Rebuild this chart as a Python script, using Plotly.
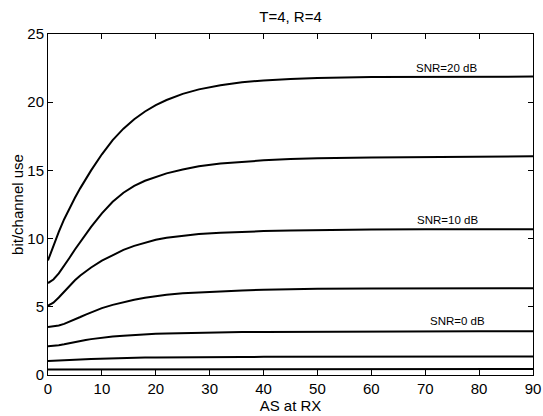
import plotly.graph_objects as go

as_deg = [0, 1, 2, 3, 4, 5, 6, 7, 8, 10, 12, 14, 16, 18, 20, 22, 25, 28, 32, 36, 40, 45, 50, 60, 70, 80, 90]

cap_a = [8.4, 9.48, 10.5, 11.42, 12.25, 13.0, 13.7, 14.37, 15.0, 16.18, 17.22, 18.06, 18.75, 19.32, 19.78, 20.16,
         20.61, 20.94, 21.25, 21.46, 21.6, 21.71, 21.78, 21.84, 21.87, 21.88, 21.88]
cap_b = [6.74, 7.0, 7.45, 8.0, 8.6, 9.2, 9.78, 10.33, 10.86, 11.85, 12.7, 13.36, 13.86, 14.24, 14.53, 14.78,
         15.07, 15.3, 15.5, 15.64, 15.74, 15.83, 15.89, 15.95, 15.99, 16.01, 16.03]
cap_c = [5.08, 5.3, 5.68, 6.12, 6.55, 6.95, 7.3, 7.6, 7.88, 8.38, 8.8, 9.17, 9.47, 9.72, 9.92, 10.07,
         10.22, 10.33, 10.43, 10.5, 10.55, 10.6, 10.63, 10.66, 10.68, 10.68, 10.69]
cap_d = [3.51, 3.55, 3.63, 3.75, 3.9, 4.07, 4.25, 4.43, 4.6, 4.9, 5.14, 5.35, 5.52, 5.66, 5.78, 5.88,
         5.99, 6.06, 6.14, 6.2, 6.25, 6.29, 6.32, 6.35, 6.36, 6.36, 6.36]
cap_e = [2.11, 2.13, 2.18, 2.25, 2.34, 2.43, 2.5, 2.57, 2.63, 2.74, 2.82, 2.88, 2.94, 2.99, 3.02, 3.05,
         3.08, 3.11, 3.13, 3.15, 3.16, 3.17, 3.18, 3.19, 3.19, 3.2, 3.2]
cap_f = [1.03, 1.04, 1.05, 1.07, 1.09, 1.11, 1.13, 1.15, 1.17, 1.2, 1.23, 1.25, 1.27, 1.28, 1.29, 1.3,
         1.3, 1.31, 1.32, 1.32, 1.33, 1.33, 1.34, 1.35, 1.35, 1.36, 1.36]
cap_g = [0.4, 0.4, 0.4, 0.41, 0.41, 0.41, 0.41, 0.41, 0.42, 0.42, 0.42, 0.42, 0.42, 0.43, 0.43, 0.43,
         0.43, 0.43, 0.43, 0.43, 0.43, 0.44, 0.44, 0.44, 0.44, 0.44, 0.44]

series = [cap_a, cap_b, cap_c, cap_d, cap_e, cap_f, cap_g]

snr_labels = ["SNR=20 dB", "SNR=10 dB", "SNR=0 dB"]
label_x = [74, 74.2, 75.9]
label_y = [22.5, 11.4, 3.93]

x_ticks = [0, 10, 20, 30, 40, 50, 60, 70, 80, 90]
y_ticks = [0, 5, 10, 15, 20, 25]

FONT = "Liberation Sans, Arial, Helvetica, sans-serif"

fig = go.Figure()
for s in series:
    fig.add_trace(go.Scatter(
        x=as_deg, y=s, mode="lines",
        line=dict(color="black", width=2, shape="linear"),
        showlegend=False, hoverinfo="skip",
    ))

for t, lx, ly in zip(snr_labels, label_x, label_y):
    fig.add_annotation(x=lx, y=ly, text=t, showarrow=False,
                       xanchor="center", yanchor="middle",
                       font=dict(family=FONT, size=11.5, color="black"))

axis_common = dict(
    showline=True, linecolor="black", linewidth=1, mirror="ticks",
    ticks="inside", ticklen=5, tickwidth=1, tickcolor="black",
    showgrid=False, zeroline=False,
    tickfont=dict(family=FONT, size=15, color="black"),
)

fig.update_xaxes(range=[0, 90], tickvals=x_ticks, ticktext=[str(v) for v in x_ticks],
                 title=dict(text="AS at RX", font=dict(family=FONT, size=15, color="black"), standoff=0),
                 **axis_common)
fig.update_yaxes(range=[0, 25], tickvals=y_ticks, ticktext=[str(v) for v in y_ticks],
                 title=dict(text="bit/channel use", font=dict(family=FONT, size=15, color="black"), standoff=0),
                 **axis_common)

fig.update_layout(
    width=543, height=416,
    margin=dict(l=48, r=10, t=34, b=41, autoexpand=False),
    paper_bgcolor="white", plot_bgcolor="white",
    title=dict(text="T=4, R=4", x=0.5, xref="paper", xanchor="center",
               y=1 - 17 / 416, yref="container", yanchor="middle",
               font=dict(family=FONT, size=15, color="black")),
)

fig.write_html("out.html", config={"displayModeBar": False},
               post_script="document.body.style.margin='0';document.body.style.overflow='hidden';")
